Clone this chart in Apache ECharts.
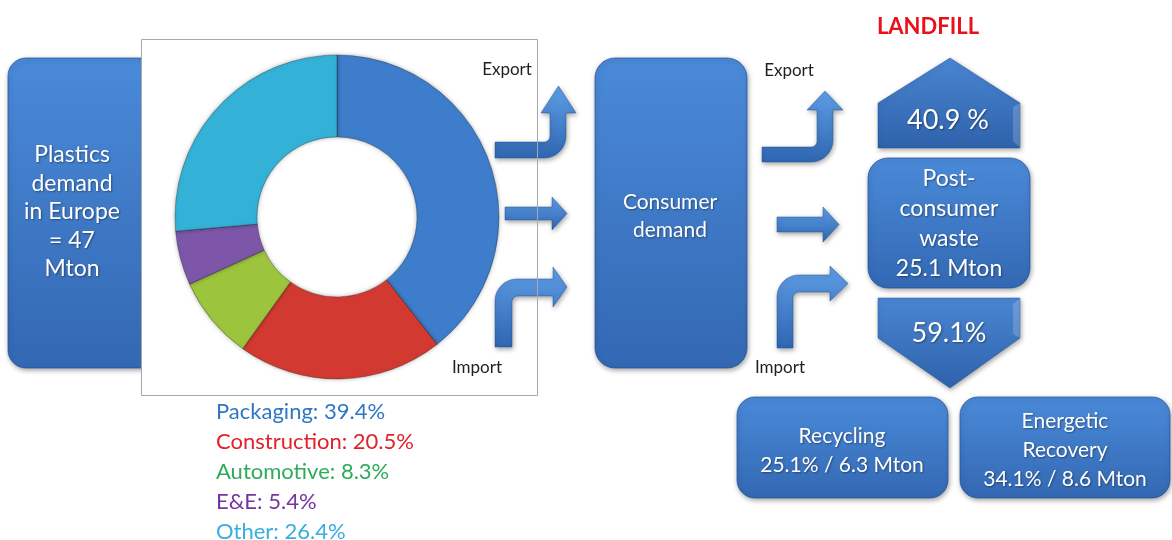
<!DOCTYPE html>
<html><head><meta charset="utf-8">
<script src="https://cdn.jsdelivr.net/npm/echarts@6/dist/echarts.min.js"></script>
<style>html,body{margin:0;padding:0;background:#fff}#c{width:1172px;height:540px}</style>
</head><body><div id="c"></div>
<script>
// ---- data ----
const sectors = ['Packaging', 'Construction', 'Automotive', 'E&E', 'Other'];
const sectorShares = [39.4, 20.5, 8.3, 5.4, 26.4];
const demandMton = 47;
const postConsumerMton = 25.1;
const landfillPct = 40.9;
const recoveryPct = 59.1;
const recyclingPct = 25.1;
const recyclingMton = 6.3;
const energyPct = 34.1;
const energyMton = 8.6;

// ---- styles ----
const sliceColors = ['#3E7DCB', '#D23A31', '#9DC43D', '#7D56A9', '#33B1D6'];
const legendColors = ['#2F77C3', '#E3202B', '#2EAB5B', '#7434A2', '#37AEDF'];
const FONT = 'Lato, "Open Sans", sans-serif';

function grad(c0, c1) {
  return {type: 'linear', x: 0, y: 0, x2: 0, y2: 1, colorStops: [{offset: 0, color: c0}, {offset: 1, color: c1}]};
}
const boxFill = () => grad('#4A8AD9', '#3368B3');
const arrowFill = () => grad('#5E9EE6', '#2F66B1');
const shadow = {shadowBlur: 5, shadowOffsetX: 1, shadowOffsetY: 2, shadowColor: 'rgba(0,0,0,0.35)'};
const noShadow = {textShadowBlur: 0, textShadowOffsetX: 0, textShadowOffsetY: 0};

function box(x, y, w, h, r, z) {
  return {type: 'rect', z: z, shape: {x, y, width: w, height: h, r: r},
    style: Object.assign({fill: boxFill(), stroke: 'rgba(35,80,150,0.7)', lineWidth: 1}, shadow)};
}
function poly(points, z, fill) {
  return {type: 'polygon', z: z, shape: {points: points},
    style: Object.assign({fill: fill || arrowFill(), stroke: 'rgba(35,80,150,0.6)', lineWidth: 0.8}, shadow)};
}
function txt(x, y, text, size, color, extra) {
  return {type: 'text', z: 20, style: Object.assign({
    x, y, text, fill: color || '#fff', font: size + 'px ' + FONT,
    align: 'center', verticalAlign: 'middle',
    textShadowColor: 'rgba(0,0,0,0.4)', textShadowBlur: 2, textShadowOffsetX: 1, textShadowOffsetY: 1
  }, extra || {})};
}
function arc(cx, cy, r, a0, a1, n) {
  const pts = [];
  for (let i = 0; i <= n; i++) {
    const a = (a0 + (a1 - a0) * i / n) * Math.PI / 180;
    pts.push([cx + r * Math.cos(a), cy + r * Math.sin(a)]);
  }
  return pts;
}
// horizontal band turning up
function exportArrow(x0, yTop, yBot, vx0, vx1, headY, headL, headR, apexY, ri, R) {
  const apexX = (headL + headR) / 2;
  let p = [[x0, yTop]];
  p = p.concat(arc(vx0 - ri, yTop - ri, ri, 90, 0, 8));
  p.push([vx0, headY], [headL, headY], [apexX, apexY], [headR, headY], [vx1, headY]);
  p = p.concat(arc(vx1 - R, yBot - R, R, 0, 90, 14));
  p.push([x0, yBot]);
  return poly(p, 5);
}
// vertical band turning right
function importArrow(yBottom, vx0, vx1, hyTop, hyBot, headX, headTop, headBot, apexX, ri, R) {
  const apexY = (headTop + headBot) / 2;
  let p = [[vx0, yBottom]];
  p = p.concat(arc(vx0 + R, hyTop + R, R, 180, 270, 14));
  p.push([headX, hyTop], [headX, headTop], [apexX, apexY], [headX, headBot], [headX, hyBot]);
  p = p.concat(arc(vx1 + ri, hyBot + ri, ri, 270, 180, 8));
  p.push([vx1, yBottom]);
  return poly(p, 5);
}
function straightArrow(x0, yTop, yBot, headX, headTop, headBot, apexX) {
  const apexY = (headTop + headBot) / 2;
  return poly([[x0, yTop], [headX, yTop], [headX, headTop], [apexX, apexY], [headX, headBot], [headX, yBot], [x0, yBot]], 5);
}

const elements = [
  // left box (behind frame)
  box(8, 58, 150, 310, 18, 0),
  // frame fill
  {type: 'rect', z: 1, shape: {x: 141.5, y: 39.5, width: 396, height: 356}, style: {fill: '#fff'}},
  // frame border on top
  {type: 'rect', z: 30, shape: {x: 141.5, y: 39.5, width: 396, height: 356}, style: {fill: 'none', stroke: '#A8A8A8', lineWidth: 1}},
  txt(72, 212, 'Plastics\ndemand\nin Europe\n= ' + demandMton + '\nMton', 23, '#fff', {lineHeight: 28.5}),

  // first arrow set
  exportArrow(495, 142, 158, 550, 566, 113, 541, 576, 86, 6, 22),
  straightArrow(505, 207, 220, 552, 197, 230, 567),
  importArrow(347, 495, 512, 279, 296, 553, 267, 307, 567, 6, 22),
  txt(507, 70, 'Export', 17, '#1f1f1f', noShadow),
  txt(477, 368, 'Import', 17, '#1f1f1f', noShadow),

  // consumer demand
  box(595, 58, 152, 310, 20, 4),
  txt(670, 216, 'Consumer\ndemand', 21, '#fff', {lineHeight: 28}),

  // second arrow set
  exportArrow(762, 147, 162, 817, 833, 110, 807, 843, 91, 6, 22),
  straightArrow(777, 217, 232, 823, 207, 242, 839),
  importArrow(348, 777, 793, 275, 292, 830, 266, 301, 848, 6, 22),
  txt(789, 71, 'Export', 17, '#1f1f1f', noShadow),
  txt(780, 368, 'Import', 17, '#1f1f1f', noShadow),

  // landfill
  txt(928, 27, 'LANDFILL', 23, '#E8121C', Object.assign({font: 'bold 22px ' + FONT}, noShadow)),
  poly([[878, 148], [878, 103], [950, 58], [1020, 103], [1020, 148]], 4, grad('#4A86D2', '#2E62AB')),
  {type: 'polygon', z: 6, shape: {points: [[1013, 107], [1020, 103], [1020, 148], [1013, 141]]}, style: {fill: 'rgba(255,255,255,0.18)'}},
  txt(948, 120, landfillPct + ' %', 27),

  // post-consumer waste
  box(868, 158, 162, 130, 20, 4),
  txt(949, 224, 'Post-\nconsumer\nwaste\n' + postConsumerMton + ' Mton', 23, '#fff', {lineHeight: 30}),

  // recovery down arrow
  poly([[878, 298], [1020, 298], [1020, 338], [950, 388], [878, 338]], 4, grad('#4A86D2', '#2E62AB')),
  {type: 'polygon', z: 6, shape: {points: [[1013, 304], [1020, 298], [1020, 338], [1013, 334]]}, style: {fill: 'rgba(255,255,255,0.18)'}},
  txt(949, 333, recoveryPct + '%', 27),

  // recycling / energetic recovery
  box(737, 397, 211, 101, 18, 4),
  txt(842, 451, 'Recycling\n' + recyclingPct + '% / ' + recyclingMton + ' Mton', 21, '#fff', {lineHeight: 29}),
  box(960, 397, 210, 101, 18, 4),
  txt(1065, 450, 'Energetic\nRecovery\n' + energyPct + '% / ' + energyMton + ' Mton', 21, '#fff', {lineHeight: 29})
];

// legend texts under the donut
sectors.forEach((name, i) => {
  elements.push(txt(216, 412 + 30 * i, name + ': ' + sectorShares[i] + '%', 22, legendColors[i],
    Object.assign({align: 'left'}, noShadow)));
});

const chart = echarts.init(document.getElementById('c'));
chart.setOption({
  animation: false,
  backgroundColor: '#fff',
  graphic: {elements: elements},
  series: [{
    type: 'pie',
    z: 2,
    center: [337, 217],
    radius: [80, 162],
    startAngle: 90,
    clockwise: true,
    label: {show: false},
    labelLine: {show: false},
    emphasis: {disabled: true},
    silent: true,
    itemStyle: {borderColor: 'rgba(0,0,0,0.28)', borderWidth: 1, shadowBlur: 4, shadowColor: 'rgba(0,0,0,0.3)'},
    data: sectors.map((n, i) => ({name: n, value: sectorShares[i], itemStyle: {color: sliceColors[i]}}))
  }]
});
</script>
</body></html>
